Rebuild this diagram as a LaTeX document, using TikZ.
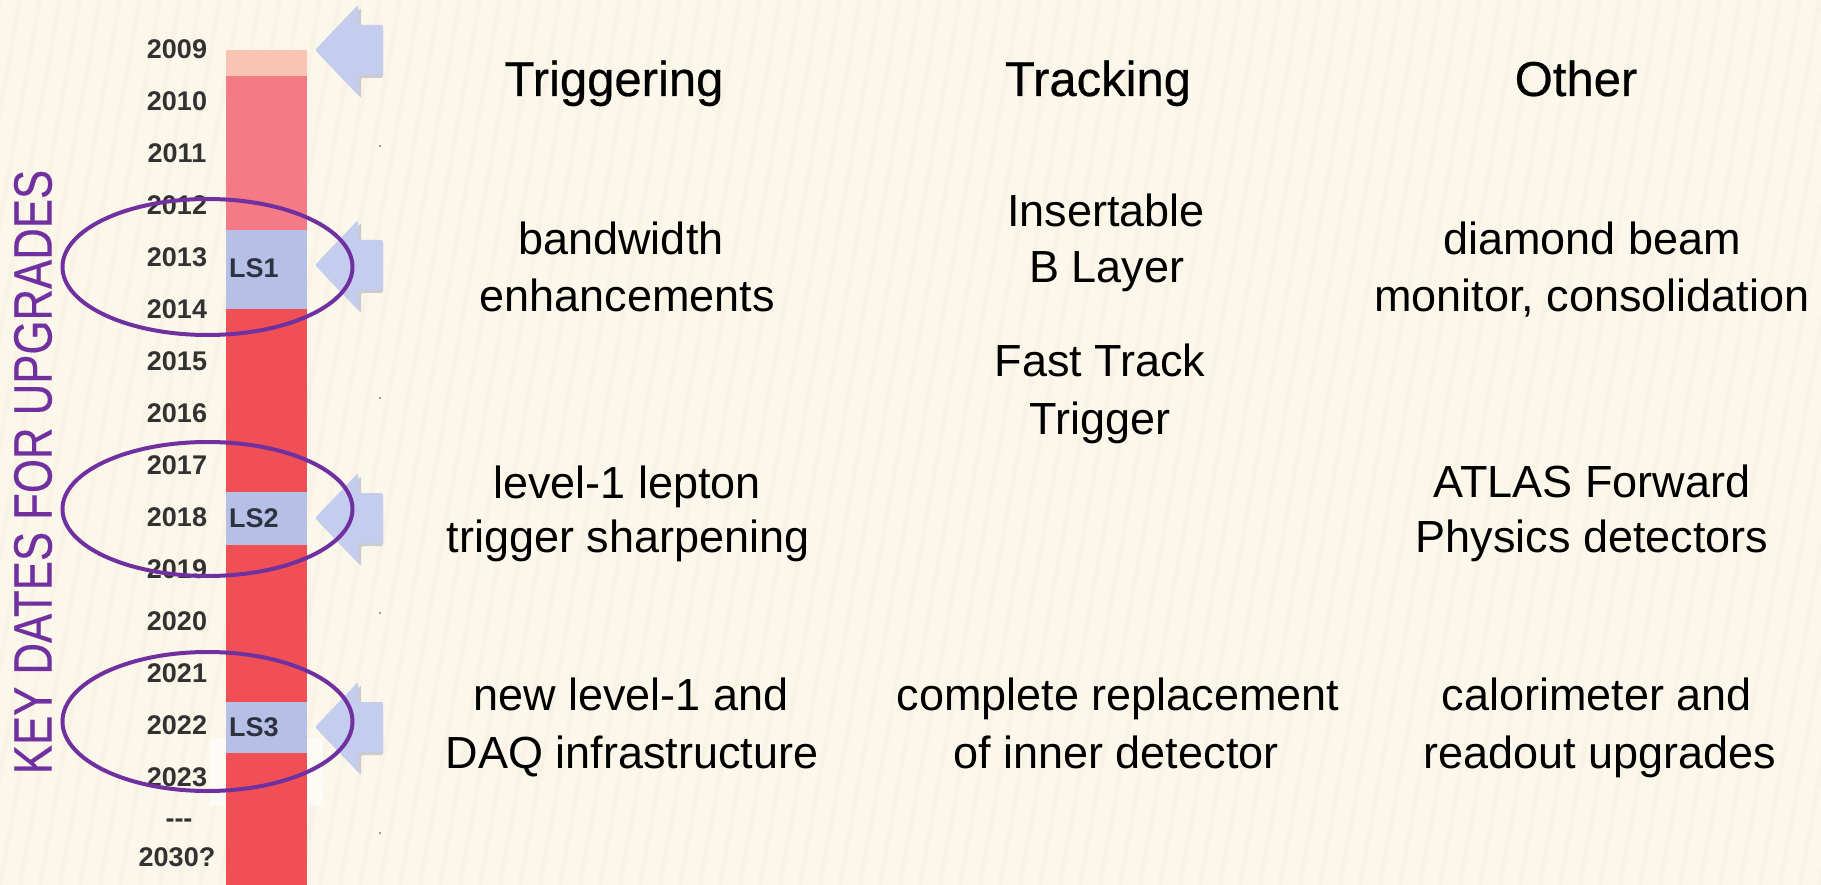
\documentclass[tikz,border=0pt]{standalone}
\usepackage{fontspec}
\setmainfont{Liberation Sans}
\newfontfamily\headfont[FakeBold=0.5]{Liberation Sans}
\newfontfamily\titlefont[FakeBold=0.3]{Liberation Sans}
\definecolor{bg}{RGB}{251,247,234}
\definecolor{stripe}{RGB}{238,230,208}
\definecolor{peach}{RGB}{250,196,180}
\definecolor{pinkbar}{RGB}{244,122,134}
\definecolor{redbar}{RGB}{240,80,85}
\definecolor{lsblue}{RGB}{182,192,230}
\definecolor{arrowblue}{RGB}{197,205,238}
\definecolor{shadowc}{RGB}{165,170,190}
\definecolor{purp}{RGB}{112,48,160}
\definecolor{yeargray}{RGB}{50,50,50}
\definecolor{lstext}{RGB}{45,50,65}
\begin{document}
\begin{tikzpicture}[x=1pt,y=-1pt,
  year/.style={font=\fontsize{27}{32}\selectfont\bfseries, text=yeargray, inner sep=0pt, anchor=center},
  lslabel/.style={font=\fontsize{27}{32}\selectfont\bfseries, text=lstext, inner sep=0pt, anchor=west},
  body/.style={font=\fontsize{45}{56}\selectfont, inner sep=0pt, anchor=base},
  head/.style={font=\headfont\fontsize{49}{58}\selectfont, inner sep=0pt, anchor=base},
  ring/.style={draw=purp, line width=4pt},
  bluearrow/.style={fill=arrowblue, rounded corners=2pt},
  arrowshadow/.style={fill=shadowc, opacity=0.55, rounded corners=2pt},
  stripeline/.style={draw=stripe, line width=5pt, opacity=0.18}]
% background
\fill[bg] (0,0) rectangle (1821,885);
\useasboundingbox (0,0) rectangle (1821,885);
\begin{scope}
\clip (0,0) rectangle (1821,885);
\foreach \sx in {-200,-180,...,1820}{
  \draw[stripeline] (\sx,885) -- (\sx+160,0);
}
\end{scope}
% white patch
\fill[white, opacity=0.6] (210,738) rectangle (323,806);
% bar
\fill[peach]   (226,50)  rectangle (307,76);
\fill[pinkbar] (226,76)  rectangle (307,230);
\fill[lsblue]  (226,230) rectangle (307,309);
\fill[redbar]  (226,309) rectangle (307,492);
\fill[lsblue]  (226,492) rectangle (307,545);
\fill[redbar]  (226,545) rectangle (307,702);
\fill[lsblue]  (226,702) rectangle (307,753);
\fill[redbar]  (226,753) rectangle (307,885);
% years
\node[year] (y2009) at (177,49)  {2009};
\node[year] (y2010) at (177,101) {2010};
\node[year] (y2011) at (177,153) {2011};
\node[year] (y2012) at (177,205) {2012};
\node[year] (y2013) at (177,257) {2013};
\node[year] (y2014) at (177,309) {2014};
\node[year] (y2015) at (177,361) {2015};
\node[year] (y2016) at (177,413) {2016};
\node[year] (y2017) at (177,465) {2017};
\node[year] (y2018) at (177,517) {2018};
\node[year] (y2019) at (177,569) {2019};
\node[year] (y2020) at (177,621) {2020};
\node[year] (y2021) at (177,673) {2021};
\node[year] (y2022) at (177,725) {2022};
\node[year] (y2023) at (177,777) {2023};
\node[year] (ydots) at (179,823) {-{}-{}-};
\node[year] (y2030) at (177,857) {2030?};
% LS labels
\node[lslabel] (ls1) at (229,268) {LS1};
\node[lslabel] (ls2) at (229,518) {LS2};
\node[lslabel] (ls3) at (229,727) {LS3};
% arrows
\foreach \ty in {50,265,518,727}{
  \fill[arrowshadow] (318,\ty+3) -- (361,\ty-42) -- (361,\ty-22) -- (383,\ty-22) -- (383,\ty+28) -- (361,\ty+28) -- (361,\ty+48) -- cycle;
  \fill[bluearrow] (315,\ty) -- (358,\ty-45) -- (358,\ty-25) -- (383,\ty-25) -- (383,\ty+25) -- (358,\ty+25) -- (358,\ty+45) -- cycle;
}
% tiny marks
\foreach \dy in {146,398,613,833}{
  \fill[gray] (380,\dy) circle (1.2);
}
% rings
\draw[ring] (207.5,267) ellipse (145 and 68);
\draw[ring] (207.5,509) ellipse (145 and 67);
\draw[ring] (207.5,721.5) ellipse (145 and 69.5);
% vertical title
\node[rotate=90, text=purp, inner sep=0pt, anchor=center,
  font=\titlefont\fontsize{54}{60}\selectfont] (title) at (33,472) {\scalebox{0.81}[1]{KEY DATES FOR UPGRADES}};
% headers
\node[head] (hTrig) at (614,96) {Triggering};
\node[head] (hTrack) at (1098,96) {Tracking};
\node[head] (hOther) at (1576,96) {Other};
% column 1
\node[body] (t1a) at (621,255) {bandwidth};
\node[body] (t1b) at (627,312) {enhancements};
\node[body] (t2a) at (627,498) {level-1 lepton};
\node[body] (t2b) at (628,552) {trigger sharpening};
\node[body] (t3a) at (631,710) {new level-1 and};
\node[body] (t3b) at (632,768) {DAQ infrastructure};
% column 2
\node[body] (k1a) at (1106,227) {Insertable};
\node[body] (k1b) at (1107,283) {B Layer};
\node[body] (k2a) at (1100,377) {Fast Track};
\node[body] (k2b) at (1100,434) {Trigger};
\node[body] (k3a) at (1118,710) {complete replacement};
\node[body] (k3b) at (1116,768) {of inner detector};
% column 3
\node[body] (o1a) at (1592,255) {diamond beam};
\node[body] (o1b) at (1592,312) {monitor, consolidation};
\node[body] (o2a) at (1592,497) {ATLAS Forward};
\node[body] (o2b) at (1592,552) {Physics detectors};
\node[body] (o3a) at (1597,710) {calorimeter and};
\node[body] (o3b) at (1600,768) {readout upgrades};
\end{tikzpicture}
\end{document}
